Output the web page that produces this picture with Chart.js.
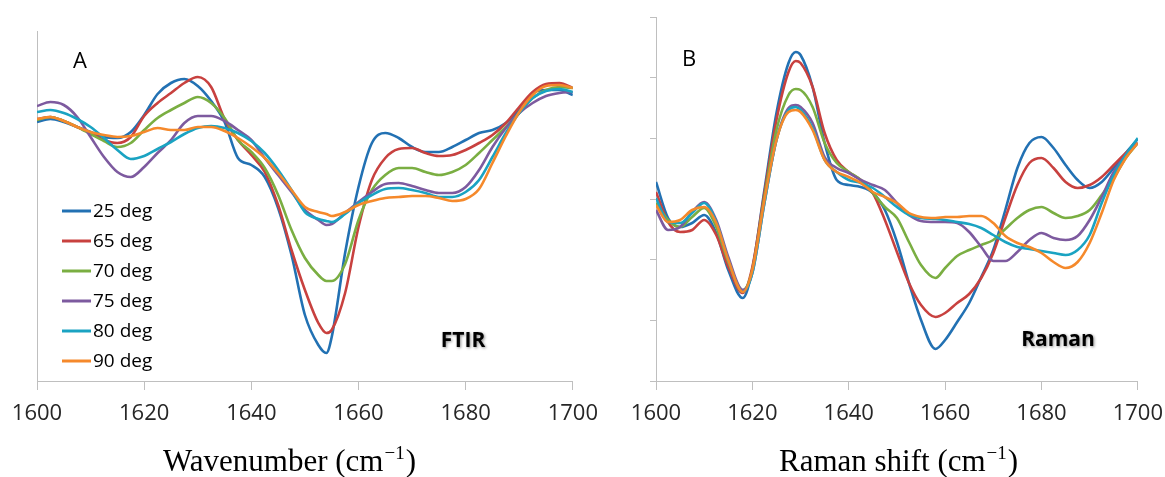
<!DOCTYPE html>
<html><head><meta charset="utf-8">
<script src="https://cdn.jsdelivr.net/npm/chart.js@4.4.1/dist/chart.umd.min.js"></script>
<style>
html,body{margin:0;padding:0;background:#fff;width:1165px;height:477px;overflow:hidden}
#c1{position:absolute;left:0;top:0}
#c2{position:absolute;left:609px;top:0}
</style></head><body>
<canvas id="c1" width="609" height="477"></canvas>
<canvas id="c2" width="565" height="477"></canvas>
<script>
// ---- data ----
const seriesNames = ['25 deg', '65 deg', '70 deg', '75 deg', '80 deg', '90 deg'];
const seriesColors = ['#2271B3', '#C8413F', '#7AAE42', '#7D5A9F', '#1AA3C2', '#F5892B'];
const xTickValues = [1600, 1620, 1640, 1660, 1680, 1700];
const ftirTitle = ['Wavenumber (cm', '\u22121', ')'];
const ramanTitle = ['Raman shift (cm', '\u22121', ')'];

// FTIR (panel A), relative intensity (arbitrary units)
const ftirX = [1600,1602.5,1605,1607.5,1610,1612.5,1615,1617.5,1620,1622.5,1625,1627.5,1630,1632.5,1635,1637.5,1640,1642.5,1645,1647.5,1650,1652.5,1654,1655,1657.5,1660,1662.5,1665,1667.5,1670,1672.5,1675,1677.5,1680,1682.5,1685,1687.5,1690,1692.5,1695,1697.5,1700];
const ftir25 = [259,262,259,254,249,244,243,249,266,287,298,302,295,280,259,223,216,204,173,126,66,36,28,44,128,194,238,248,243,234,229,229,234,241,248,251,258,271,288,291,291,286];
const ftir65 = [262,264,260,254,248,241,238,244,265,278,288,298,304,294,262,241,226,209,176,131,91,58,48,51,88,154,201,223,232,233,228,225,226,231,238,246,258,274,289,297,298,293];
const ftir70 = [261,264,260,254,247,240,234,238,251,263,271,278,284,278,263,241,229,213,186,151,123,106,100,100,117,161,191,206,213,213,209,206,209,216,228,241,254,268,283,291,294,293];
const ftir75 = [275,279,276,264,244,224,209,204,214,228,241,258,265,265,260,251,241,223,206,189,171,161,156,157,168,179,189,197,198,195,191,188,188,194,211,234,253,268,278,285,288,289];
const ftir80 = [269,271,268,262,254,243,231,222,225,232,239,247,253,255,253,248,240,228,211,191,169,162,160,159,167,178,186,192,193,191,188,184,184,189,201,224,248,268,283,290,292,289];
const ftir90 = [262,264,260,254,249,246,244,245,249,253,251,251,254,254,250,243,234,223,208,191,174,169,167,165,169,176,180,183,184,185,185,183,180,182,192,218,245,269,286,295,296,293];

// Raman (panel B), relative intensity (arbitrary units)
const ramanX = [1600,1602.5,1605,1607.5,1610,1612.5,1615,1618,1620,1622.5,1625,1627.5,1629,1630,1632.5,1635,1637.5,1640,1642.5,1645,1647.5,1650,1652.5,1655,1658,1660,1662.5,1665,1667.5,1670,1672.5,1675,1677.5,1680,1682.5,1685,1687.5,1690,1692.5,1695,1697.5,1700];
const raman25 = [199,163,154,158,166,148,111,83,112,191,268,318,329,326,294,238,201,196,194,188,171,139,98,61,32,41,59,78,104,131,171,213,238,244,233,216,201,193,199,213,228,242];
const raman65 = [189,159,149,151,161,146,114,88,114,188,261,309,320,318,294,248,221,209,201,188,161,129,98,76,64,68,78,87,103,128,163,196,218,223,213,199,193,196,204,216,228,238];
const raman70 = [178,161,154,164,173,154,119,91,111,184,251,286,292,291,274,238,218,209,201,188,174,163,139,116,103,113,125,131,136,141,152,163,171,174,168,163,165,171,186,203,223,238];
const raman75 = [171,151,154,169,179,161,124,91,108,178,241,273,276,274,258,224,213,208,201,196,191,178,166,160,159,159,158,149,134,120,120,129,141,148,143,141,145,161,184,209,226,238];
const raman80 = [183,159,158,168,178,159,121,89,108,178,241,271,274,271,253,221,209,201,198,193,184,174,166,163,162,161,159,157,153,146,139,134,132,130,128,126,131,146,178,206,226,243];
const raman90 = [176,159,161,171,174,158,121,89,111,181,241,269,271,269,251,221,209,204,198,189,184,178,168,164,163,164,164,165,165,158,145,138,134,128,119,113,119,138,168,201,223,238];

// ---- helpers ----
const AXIS_GRAY = '#BFBFBF';
function makeDatasets(xs, ys) {
  return ys.map((vals, i) => ({
    label: seriesNames[i],
    data: xs.map((x, j) => ({x: x, y: vals[j]})),
    borderColor: seriesColors[i],
    backgroundColor: seriesColors[i],
    borderWidth: 2.6,
    pointRadius: 0,
    fill: false,
    cubicInterpolationMode: 'monotone',
    order: ys.length - i
  }));
}

const annotPlugin = {
  id: 'annot',
  afterDraw(chart, args, opts) {
    const ctx = chart.ctx;
    ctx.save();
    ctx.fillStyle = '#000';
    // axis title with superscript
    ctx.textAlign = 'left';
    ctx.textBaseline = 'alphabetic';
    let tx = opts.titleX;
    const tb = opts.titleBase;
    ctx.font = '31px "Liberation Serif"';
    ctx.fillText(opts.title[0], tx, tb);
    tx += ctx.measureText(opts.title[0]).width + 1;
    ctx.font = '19px "Liberation Serif"';
    ctx.fillText(opts.title[1], tx, tb - 12);
    tx += ctx.measureText(opts.title[1]).width + 1;
    ctx.font = '31px "Liberation Serif"';
    ctx.fillText(opts.title[2], tx, tb);
    // panel letter
    ctx.font = '22px "Open Sans"';
    ctx.textAlign = 'center';
    ctx.textBaseline = 'middle';
    ctx.fillText(opts.letter, opts.letterX, opts.letterY);
    // bold method label with soft shadow
    ctx.font = 'bold 21px "Open Sans"';
    ctx.shadowColor = 'rgba(0,0,0,0.45)';
    ctx.shadowBlur = 3;
    ctx.shadowOffsetX = 1;
    ctx.shadowOffsetY = 1;
    ctx.fillText(opts.method, opts.methodX, opts.methodY);
    ctx.restore();
    if (opts.legend) {
      ctx.save();
      ctx.font = '19px "Open Sans"';
      ctx.textAlign = 'left';
      ctx.textBaseline = 'middle';
      chart.data.datasets.forEach((ds, i) => {
        const y = opts.legendY + i * opts.legendStep;
        ctx.strokeStyle = ds.borderColor;
        ctx.lineWidth = 3;
        ctx.beginPath();
        ctx.moveTo(opts.legendX, y);
        ctx.lineTo(opts.legendX + 29, y);
        ctx.stroke();
        ctx.fillStyle = '#000';
        ctx.fillText(ds.label, opts.legendX + 31, y + 1);
      });
      ctx.restore();
    }
  }
};

function makeChart(id, xs, ys, cfg) {
  return new Chart(document.getElementById(id), {
    type: 'line',
    data: {datasets: makeDatasets(xs, ys)},
    plugins: [annotPlugin],
    options: {
      responsive: false,
      animation: false,
      events: [],
      layout: {padding: {left: 0, right: cfg.padRight, top: cfg.padTop, bottom: 0}},
      plugins: {
        legend: {display: false},
        tooltip: {enabled: false},
        annot: cfg.annot
      },
      scales: {
        x: {
          type: 'linear',
          min: 1600, max: 1700,
          afterBuildTicks: s => { s.ticks = xTickValues.map(v => ({value: v})); },
          afterFit: s => { s.height = 96; },
          ticks: {
            callback: v => String(v),
            font: {family: 'Open Sans', size: 22},
            color: '#262626',
            padding: 11,
            maxRotation: 0,
            autoSkip: false
          },
          grid: {display: true, drawOnChartArea: false, drawTicks: true, tickLength: 9, color: AXIS_GRAY, lineWidth: 1},
          border: {display: true, color: AXIS_GRAY, width: 1},
          title: {display: false}
        },
        y: {
          type: 'linear',
          min: 0, max: cfg.yMax,
          afterBuildTicks: s => { s.ticks = cfg.yTicks.map(v => ({value: v})); },
          afterFit: s => { s.width = cfg.yWidth; },
          ticks: {display: false},
          grid: {display: cfg.yTickMarks, drawOnChartArea: false, drawTicks: true, tickLength: 6, color: AXIS_GRAY, lineWidth: 1},
          border: {display: true, color: AXIS_GRAY, width: 1}
        }
      }
    }
  });
}

makeChart('c1', ftirX, [ftir25, ftir65, ftir70, ftir75, ftir80, ftir90], {
  padRight: 28, padTop: 31, yWidth: 37, yMax: 350, yTicks: [0, 350], yTickMarks: false,
  annot: {title: ftirTitle, titleX: 163, titleBase: 471,
          letter: 'A', letterX: 80, letterY: 62, method: 'FTIR', methodX: 463, methodY: 341,
          legend: true, legendX: 62, legendY: 211, legendStep: 30}
});

makeChart('c2', ramanX, [raman25, raman65, raman70, raman75, raman80, raman90], {
  padRight: 28, padTop: 17, yWidth: 47, yMax: 364,
  yTicks: [0, 60.667, 121.333, 182, 242.667, 303.333, 364], yTickMarks: true,
  annot: {title: ramanTitle, titleX: 170, titleBase: 471,
          letter: 'B', letterX: 80, letterY: 60, method: 'Raman', methodX: 449, methodY: 340, legend: false}
});
</script>
</body></html>
